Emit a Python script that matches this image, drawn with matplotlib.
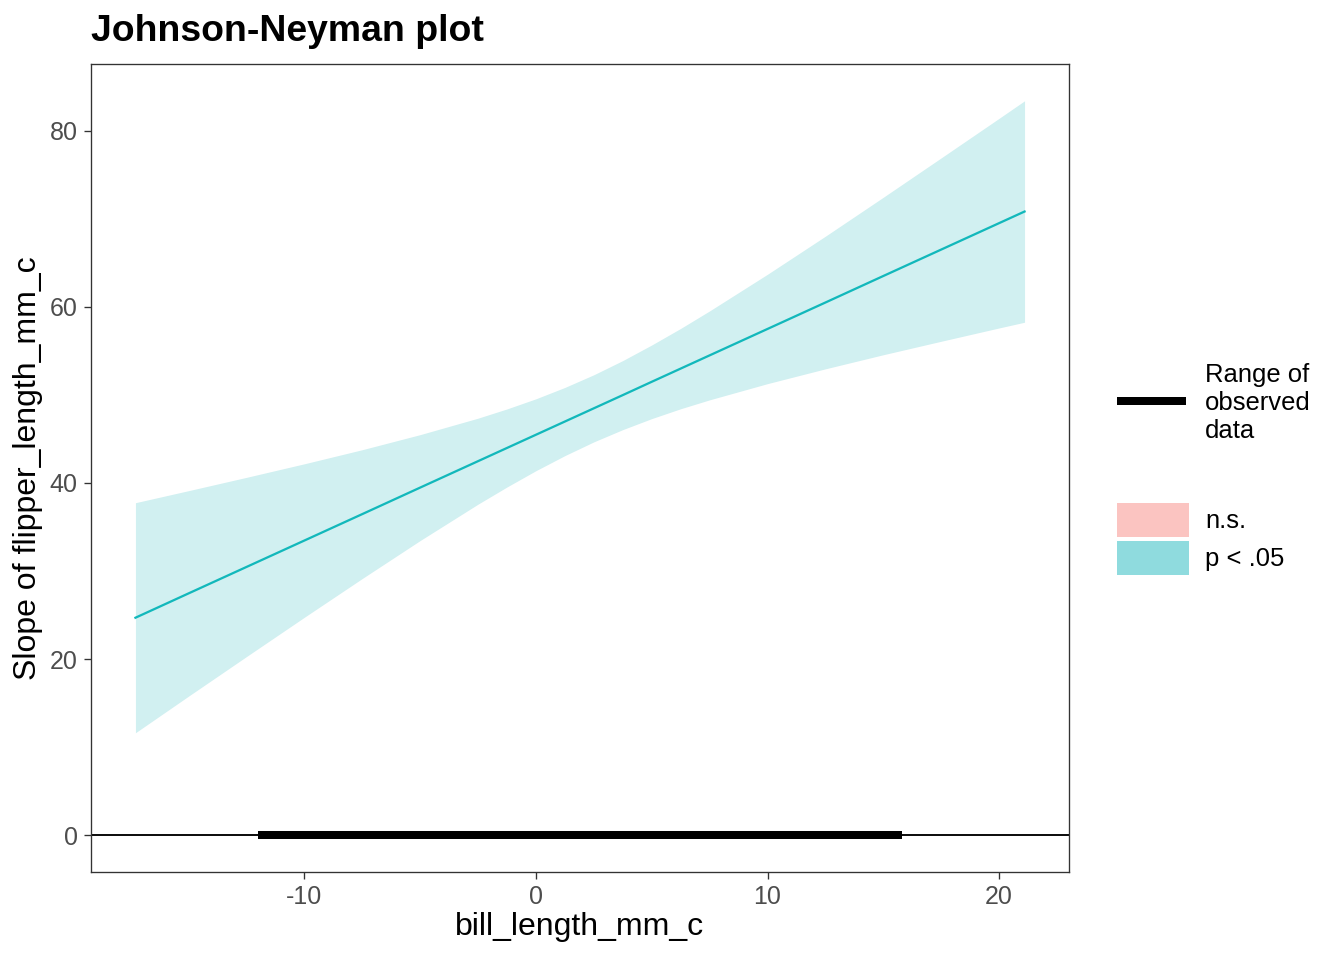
import matplotlib
matplotlib.use("Agg")
import matplotlib.pyplot as plt
from matplotlib.lines import Line2D
from matplotlib.patches import Rectangle

plt.rcParams['font.family'] = ['Liberation Sans', 'DejaVu Sans']
plt.rcParams['axes.unicode_minus'] = False

# ---- data ----
x_vals = [-17.3, -15.0, -12.5, -10.0, -7.5, -5.0, -2.5, -1.25, 0.0, 1.25, 2.5,
          3.75, 5.0, 6.25, 7.5, 10.0, 12.5, 15.0, 17.5, 20.0, 21.1]
slope_vals = [24.70, 27.47, 30.47, 33.47, 36.47, 39.48, 42.48, 43.98, 45.48, 46.98, 48.48,
              49.98, 51.49, 52.99, 54.49, 57.49, 60.49, 63.50, 66.50, 69.50, 70.82]
lower_vals = [11.64, 15.81, 20.30, 24.76, 29.16, 33.47, 37.60, 39.55, 41.40, 43.11, 44.67,
              46.06, 47.31, 48.43, 49.44, 51.28, 52.96, 54.56, 56.09, 57.60, 58.25]
upper_vals = [37.76, 39.13, 40.64, 42.18, 43.78, 45.49, 47.36, 48.41, 49.56, 50.85, 52.29,
              53.90, 55.67, 57.55, 59.54, 63.70, 68.02, 72.44, 76.91, 81.40, 83.39]
observed_range = [-12.0, 15.8]
x_ticks = [-10, 0, 10, 20]
y_ticks = [0, 20, 40, 60, 80]
legend1_label = "Range of\nobserved\ndata"
legend2_labels = ["n.s.", "p < .05"]

line_color = "#12B8BB"
band_color = "#D1F0F1"
key_colors = ["#FBC4C1", "#8FDBDE"]

W, H = 1344, 960
fig = plt.figure(figsize=(7, 5), dpi=192)
ax = fig.add_axes([91 / W, 1 - 872 / H, (1069 - 91) / W, (872 - 64) / H])

ax.fill_between(x_vals, lower_vals, upper_vals, color=band_color, linewidth=0, zorder=1)
ax.plot(x_vals, slope_vals, color=line_color, linewidth=0.85, zorder=3)
ax.axhline(0, color="black", linewidth=0.7, zorder=2)
ax.plot(observed_range, [0, 0], color="black", linewidth=3.0, solid_capstyle="butt", zorder=4)

ax.set_xlim(-19.22, 23.02)
ax.set_ylim(-4.17, 87.57)
ax.set_xticks(x_ticks)
ax.set_yticks(y_ticks)
ax.tick_params(axis="both", length=2.75, width=0.5, color="#333333",
               labelsize=9.4, labelcolor="#4D4D4D", pad=2.2)
for s in ax.spines.values():
    s.set_color("#333333")
    s.set_linewidth(0.5)

ax.set_xlabel("bill_length_mm_c", fontsize=12, color="black")
ax.set_ylabel("Slope of flipper_length_mm_c", fontsize=12, color="black")
ax.xaxis.set_label_coords(0.5, -(912 - 872) / 808)
ax.yaxis.set_label_coords(-(91 - 43) / 978, 0.5)

fig.text(91 / W, 1 - 14 / H, "Johnson-Neyman plot", fontsize=14.0, fontweight="bold",
         ha="left", va="top")

# ---- legends (drawn in figure pixel coordinates) ----
def fx(px):
    return px / W

def fy(py):
    return 1 - py / H

fig.add_artist(Line2D([fx(1117), fx(1186)], [fy(401), fy(401)], color="black",
                      linewidth=3.0, solid_capstyle="butt", transform=fig.transFigure))
fig.text(fx(1205), fy(403), legend1_label, fontsize=9.6, ha="left", va="center",
         linespacing=1.22)

key_tops = [503, 541]
for top, col, lab in zip(key_tops, key_colors, legend2_labels):
    fig.add_artist(Rectangle((fx(1117), fy(top + 34)), fx(1189) - fx(1117), 34 / H,
                             facecolor=col, edgecolor="none", transform=fig.transFigure))
    fig.text(fx(1205), fy(top + 18), lab, fontsize=9.6, ha="left", va="center")

fig.savefig("out.png", dpi=192)
